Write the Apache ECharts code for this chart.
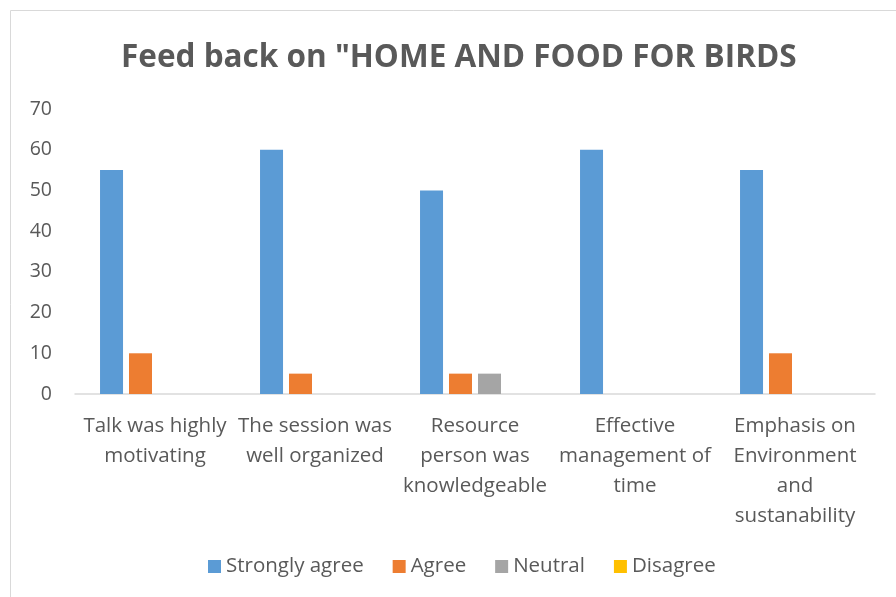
<!DOCTYPE html>
<html>
<head>
<meta charset="utf-8">
<script src="https://cdn.jsdelivr.net/npm/echarts@6/dist/echarts.min.js"></script>
<style>
  html, body { margin: 0; padding: 0; background: #fff; }
  #chart { width: 896px; height: 597px; }
</style>
</head>
<body>
<div id="chart"></div>
<script>
const categories = [
    'Talk was highly\nmotivating',
    'The session was\nwell organized',
    'Resource\nperson was\nknowledgeable',
    'Effective\nmanagement of\ntime',
    'Emphasis on\nEnvironment\nand\nsustanability'
];
const seriesNames = ['Strongly agree', 'Agree', 'Neutral', 'Disagree'];
const stronglyAgree = [55, 60, 50, 60, 55];
const agree = [10, 5, 5, 0, 10];
const neutral = [0, 0, 5, 0, 0];
const disagree = [0, 0, 0, 0, 0];
const yTicks = [0, 10, 20, 30, 40, 50, 60, 70];

const colors = ['#5b9bd5', '#ed7d31', '#a5a5a5', '#ffc000'];
const font = '"Open Sans", "Liberation Sans", sans-serif';

const chart = echarts.init(document.getElementById('chart'));
chart.setOption({
    animation: false,
    textStyle: { fontFamily: font },
    title: {
        text: 'Feed back on "HOME AND FOOD FOR BIRDS',
        left: 116,
        top: 37,
        textStyle: { fontSize: 31.5, fontWeight: 'bold', color: '#595959', fontFamily: font }
    },
    graphic: [{
        type: 'rect',
        shape: { x: 10.5, y: 10.5, width: 920, height: 620 },
        style: { fill: 'none', stroke: '#d9d9d9', lineWidth: 1 },
        silent: true
    }],
    legend: {
        data: seriesNames,
        bottom: 15,
        left: 203,
        itemWidth: 13,
        itemHeight: 13,
        itemGap: 29,
        icon: 'rect',
        textStyle: { fontSize: 20.5, color: '#595959', fontFamily: font }
    },
    grid: { left: 75, right: 21, top: 109, bottom: 203, containLabel: false },
    xAxis: {
        type: 'category',
        data: categories,
        axisLine: { lineStyle: { color: '#d9d9d9', width: 1.5 } },
        axisTick: { show: false },
        axisLabel: {
            interval: 0,
            fontSize: 20.5,
            lineHeight: 30,
            color: '#595959',
            margin: 17,
            verticalAlign: 'top'
        }
    },
    yAxis: {
        type: 'value',
        min: yTicks[0],
        max: yTicks[yTicks.length - 1],
        interval: 10,
        axisLine: { show: false },
        axisTick: { show: false },
        splitLine: { show: false },
        axisLabel: { fontSize: 19.5, color: '#595959', margin: 23 }
    },
    series: [stronglyAgree, agree, neutral, disagree].map((d, i) => ({
        name: seriesNames[i],
        type: 'bar',
        data: d,
        barWidth: 23,
        barGap: '26%',
        itemStyle: { color: colors[i] }
    }))
});
</script>
</body>
</html>
